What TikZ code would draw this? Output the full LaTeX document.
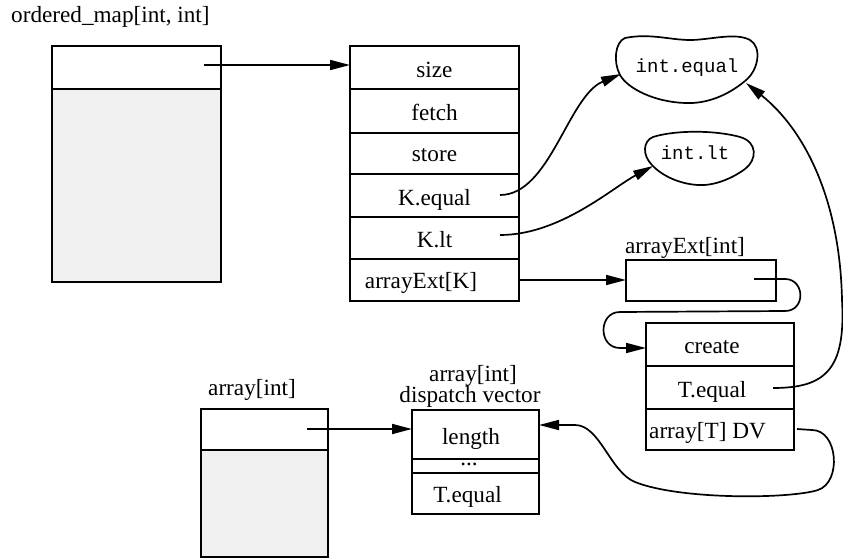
\documentclass[tikz,border=0pt]{standalone}
\usepackage{fontspec}
\setmainfont{Liberation Serif}
\setmonofont{Liberation Mono}
\usetikzlibrary{arrows.meta}
\definecolor{panelgray}{HTML}{F0F0F0}
\tikzset{
  cellbox/.style={draw, line width=1.8pt, inner sep=0pt, outer sep=0pt, rectangle},
  grayfill/.style={fill=panelgray},
  lbl/.style={inner sep=0pt, anchor=base, font=\fontsize{23.2}{27}\selectfont},
  codelbl/.style={inner sep=0pt, anchor=base, font=\ttfamily\fontsize{19}{23}\selectfont},
  arr/.style={line width=1.7pt, -{Triangle[length=20pt,width=10pt]}},
  blob/.style={draw, line width=1.7pt}
}
\begin{document}
\begin{tikzpicture}[x=1pt, y=-1pt]
\useasboundingbox (0,0) rectangle (843,559);

% ordered_map object
\node[lbl, anchor=base west] (omTitle) at (11,23) {ordered\_map[int, int]};
\node[cellbox, grayfill, minimum width=169pt, minimum height=193pt] (omBody) at (136.5,185.5) {};
\node[cellbox, minimum width=169pt, minimum height=43pt] (omTop) at (136.5,67.5) {};
\coordinate (omPtr) at (204,65);

% ordered_map dispatch vector
\node[cellbox, minimum width=169pt, minimum height=43pt] (size) at (434.5,67.5) {};
\node[cellbox, minimum width=169pt, minimum height=44pt] (fetch) at (434.5,111) {};
\node[cellbox, minimum width=169pt, minimum height=41pt] (store) at (434.5,153.5) {};
\node[cellbox, minimum width=169pt, minimum height=43pt] (kEqual) at (434.5,195.5) {};
\node[cellbox, minimum width=169pt, minimum height=42pt] (kLt) at (434.5,238) {};
\node[cellbox, minimum width=169pt, minimum height=42pt] (aExtK) at (434.5,280) {};
\node[lbl] at (434.5,78) {size};
\node[lbl] at (434.5,120.7) {fetch};
\node[lbl] at (434.5,161.7) {store};
\node[lbl] at (434.5,205) {K.equal};
\node[lbl] at (434.5,247) {K.lt};
\node[lbl] at (421,288) {arrayExt[K]};
\coordinate (kEqPtr) at (500,195);
\coordinate (kLtPtr) at (500,235);

% int.equal and int.lt functions
\draw[blob] (625,38) .. controls (650,33) and (670,40) .. (690,40)
  .. controls (710,40) and (735,32) .. (750,40)
  .. controls (762,47) and (759,70) .. (745,81)
  .. controls (727,96) and (706,104) .. (685,103)
  .. controls (655,102) and (628,89) .. (620,75)
  .. controls (613,62) and (615,42) .. (625,38) -- cycle;
\node[codelbl] (intEqual) at (687,73) {int.equal};
\draw[blob] (653,137) .. controls (675,130) and (715,130) .. (740,137)
  .. controls (758,142) and (757,160) .. (745,169)
  .. controls (730,180) and (712,186) .. (698,185)
  .. controls (680,184) and (662,176) .. (652,165)
  .. controls (642,155) and (643,141) .. (653,137) -- cycle;
\node[codelbl] (intLt) at (695,160) {int.lt};
\coordinate (intEqIn) at (621,74);
\coordinate (intEqIn2) at (746,83);
\coordinate (intLtIn) at (653,166);

% arrayExt[int]
\node[lbl] (aExtTitle) at (685,253) {arrayExt[int]};
\node[cellbox, minimum width=150pt, minimum height=41pt] (aExtInt) at (701,280.5) {};
\coordinate (aExtPtr) at (754,279);

% arrayExt dispatch vector
\node[cellbox, minimum width=148pt, minimum height=43pt] (create) at (720,344.5) {};
\node[cellbox, minimum width=148pt, minimum height=43pt] (tEqual) at (720,387.5) {};
\node[cellbox, minimum width=148pt, minimum height=41pt] (arrDV) at (720,429.5) {};
\node[lbl] at (712,353) {create};
\node[lbl] at (712,397) {T.equal};
\node[lbl, anchor=base west] at (649,438) {array[T] DV};
\coordinate (createIn) at (646,348);
\coordinate (tEqPtr) at (773,388);
\coordinate (dvPtr) at (797,429);

% array[int] object
\node[lbl] (arrTitle) at (252,395) {array[int]};
\node[cellbox, grayfill, minimum width=127pt, minimum height=107pt] (arrBody) at (264.5,503.5) {};
\node[cellbox, minimum width=127pt, minimum height=41pt] (arrTop) at (264.5,429.5) {};
\coordinate (arrPtr) at (307,429);

% array[int] dispatch vector
\node[lbl] (dvTitleA) at (473,381) {array[int]};
\node[lbl] (dvTitleB) at (470,402) {dispatch vector};
\node[cellbox, minimum width=127pt, minimum height=49pt] (length) at (475.5,434.5) {};
\node[cellbox, minimum width=127pt, minimum height=14pt] (dots) at (475.5,466) {};
\node[cellbox, minimum width=127pt, minimum height=41pt] (dvTEqual) at (475.5,493.5) {};
\node[lbl] at (471,444) {length};
\node[lbl, text height=3pt, text depth=0pt] at (469,465) {...};
\node[lbl] at (467.5,502) {T.equal};
\coordinate (lengthIn) at (539,425);

% connectors
\draw[arr] (omPtr) -- (omPtr -| size.west);
\draw[arr] (kEqPtr) .. controls (550,195) and (568,96) .. (intEqIn);
\draw[arr] (kLtPtr) .. controls (560,235) and (612,188) .. (intLtIn);
\draw[arr] (aExtK.east) -- (aExtK.east -| aExtInt.west);
\draw[arr] (aExtPtr) -- (785,279) .. controls (805,279) and (806,311) .. (785,311)
  -- (620,312) .. controls (598,312) and (598,348) .. (620,348) -- (createIn);
\draw[arr] (tEqPtr) .. controls (825,388) and (846,370) .. (842,300)
  .. controls (840,200) and (805,130) .. (intEqIn2);
\draw[arr] (dvPtr) -- (812,430) .. controls (838,430) and (842,482) .. (818,490)
  .. controls (790,499) and (680,500) .. (635,482)
  .. controls (610,472) and (600,425) .. (575,425) -- (lengthIn);
\draw[arr] (arrPtr) -- (arrPtr -| length.west);
\end{tikzpicture}
\end{document}
